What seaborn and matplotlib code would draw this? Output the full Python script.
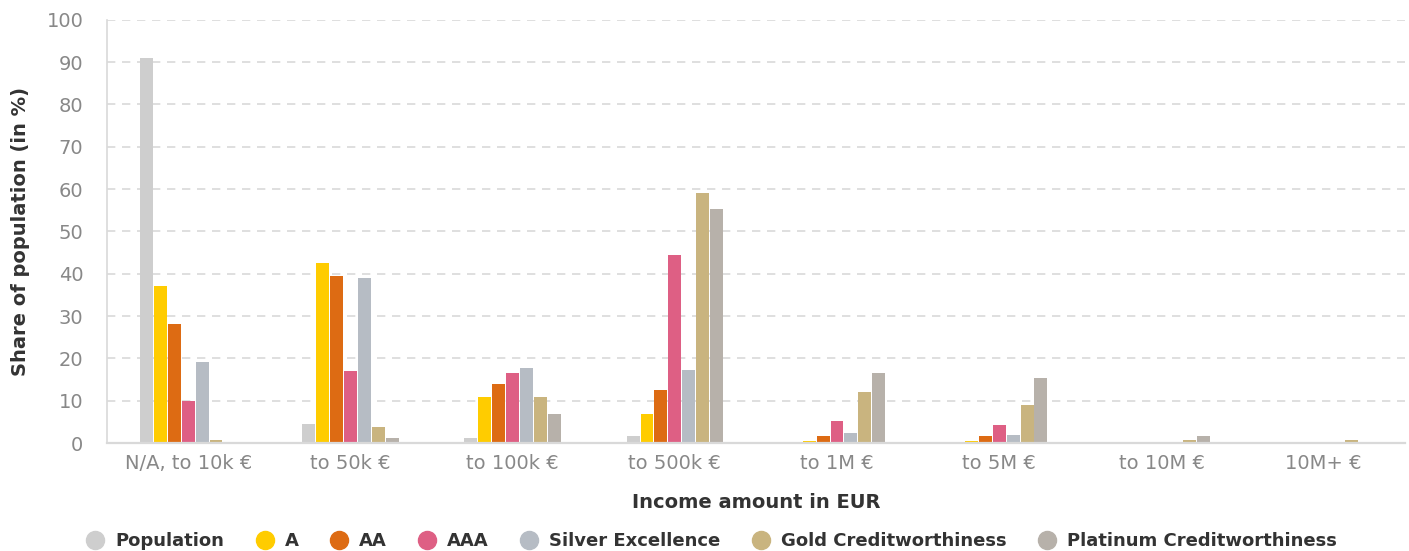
import matplotlib
matplotlib.use("Agg")
import matplotlib.pyplot as plt
import seaborn as sns
import pandas as pd
from matplotlib.lines import Line2D

categories = ["N/A, to 10k €", "to 50k €", "to 100k €", "to 500k €",
              "to 1M €", "to 5M €", "to 10M €", "10M+ €"]
series_names = ["Population", "A", "AA", "AAA", "Silver Excellence",
                "Gold Creditworthiness", "Platinum Creditworthiness"]
population = [91.0, 4.6, 1.3, 1.7, 0.0, 0.0, 0.0, 0.0]
rating_a = [37.1, 42.6, 10.9, 6.8, 0.5, 0.5, 0.0, 0.0]
rating_aa = [28.1, 39.5, 14.0, 12.5, 1.7, 1.7, 0.0, 0.0]
rating_aaa = [10.0, 17.1, 16.6, 44.4, 5.2, 4.2, 0.0, 0.0]
silver = [19.2, 39.0, 17.8, 17.2, 2.4, 1.9, 0.0, 0.0]
gold = [0.8, 3.9, 10.9, 59.0, 12.0, 9.0, 0.7, 0.7]
platinum = [0.0, 1.3, 6.9, 55.2, 16.5, 15.3, 1.7, 0.0]
colors = ["#cecece", "#ffcc00", "#dd6b13", "#de5f84", "#b6bcc4", "#c9b47f", "#b7b1aa"]
yticks = [0, 10, 20, 30, 40, 50, 60, 70, 80, 90, 100]

values = [population, rating_a, rating_aa, rating_aaa, silver, gold, platinum]
rows = []
for name, vals in zip(series_names, values):
    for cat, v in zip(categories, vals):
        rows.append({"category": cat, "series": name, "value": v})
df = pd.DataFrame(rows)

sns.set_theme(style="white")
plt.rcParams["font.family"] = ["DejaVu Sans"]

fig = plt.figure(figsize=(14.09, 5.51), dpi=100)
ax = fig.add_axes([0.076, 0.196, 0.921, 0.768])

sns.barplot(data=df, x="category", y="value", hue="series",
            order=categories, hue_order=series_names,
            palette=colors, width=0.6, saturation=1,
            linewidth=0, ax=ax, legend=False)

# leave a thin white gap between neighbouring bars
gap = 0.006
for p in ax.patches:
    p.set_x(p.get_x() + gap / 2)
    p.set_width(p.get_width() - gap)

ax.set_ylim(0, 100)
ax.set_xlim(-0.5, len(categories) - 0.5)
ax.set_yticks(yticks)
ax.set_yticklabels([str(t) for t in yticks])
ax.yaxis.grid(True, linestyle=(0, (5, 4)), color="#d9d9d9", linewidth=1.2)
ax.set_axisbelow(True)
for s in ["top", "right"]:
    ax.spines[s].set_visible(False)
ax.spines["left"].set_color("#d9d9d9")
ax.spines["bottom"].set_color("#d9d9d9")
ax.spines["left"].set_linewidth(1.2)
ax.spines["bottom"].set_linewidth(1.6)
ax.tick_params(axis="both", length=0, labelsize=14, labelcolor="#888888")
ax.tick_params(axis="y", pad=17)
ax.tick_params(axis="x", pad=8)

ax.set_xlabel("Income amount in EUR", fontsize=14, fontweight="bold",
              color="#333333", labelpad=14)
ax.set_ylabel("Share of population (in %)", fontsize=14, fontweight="bold",
              color="#333333", labelpad=12)

handles = [Line2D([0], [0], marker="o", linestyle="", markersize=13,
                  markerfacecolor=c, markeredgecolor=c) for c in colors]
fig.legend(handles, series_names, loc="center", bbox_to_anchor=(0.505, 0.018),
           ncol=7, frameon=False, handlelength=1.0, handletextpad=0.6,
           columnspacing=1.75,
           prop={"size": 13, "weight": "bold"}, labelcolor="#333333")

fig.savefig("out.png", dpi=100)
